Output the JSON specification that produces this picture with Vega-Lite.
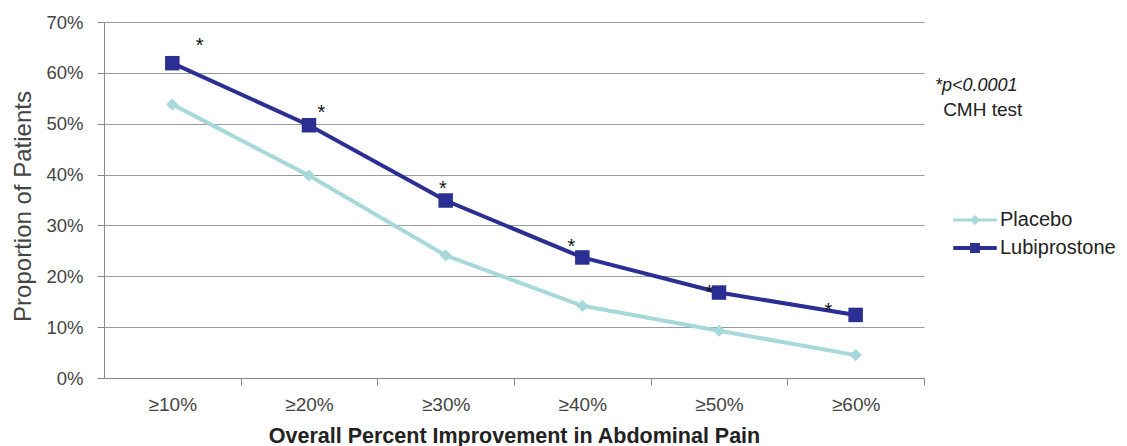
{
  "$schema": "https://vega.github.io/schema/vega-lite/v6.json",
  "width": 820,
  "height": 356,
  "autosize": {"type": "none"},
  "padding": {"left": 104, "top": 22, "right": 203, "bottom": 68},
  "background": "white",
  "config": {
    "font": "Liberation Sans",
    "view": {"stroke": null},
    "axis": {"domainColor": "#888", "tickColor": "#888", "gridColor": "#9a9a9a", "labelColor": "#444", "titleColor": "#444", "labelFont": "Liberation Sans"}
  },
  "datasets": {
    "main": [
      {"cat": "≥10%", "idx": 1, "series": "Placebo", "value": 0.538},
      {"cat": "≥20%", "idx": 2, "series": "Placebo", "value": 0.398},
      {"cat": "≥30%", "idx": 3, "series": "Placebo", "value": 0.241},
      {"cat": "≥40%", "idx": 4, "series": "Placebo", "value": 0.142},
      {"cat": "≥50%", "idx": 5, "series": "Placebo", "value": 0.093},
      {"cat": "≥60%", "idx": 6, "series": "Placebo", "value": 0.045},
      {"cat": "≥10%", "idx": 1, "series": "Lubiprostone", "value": 0.619},
      {"cat": "≥20%", "idx": 2, "series": "Lubiprostone", "value": 0.497},
      {"cat": "≥30%", "idx": 3, "series": "Lubiprostone", "value": 0.349},
      {"cat": "≥40%", "idx": 4, "series": "Lubiprostone", "value": 0.237},
      {"cat": "≥50%", "idx": 5, "series": "Lubiprostone", "value": 0.168},
      {"cat": "≥60%", "idx": 6, "series": "Lubiprostone", "value": 0.124}
    ],
    "stars": [
      {"cat": "≥10%", "sx": 1.20, "sy": 0.65},
      {"cat": "≥20%", "sx": 2.09, "sy": 0.52},
      {"cat": "≥30%", "sx": 2.98, "sy": 0.37},
      {"cat": "≥40%", "sx": 3.92, "sy": 0.255},
      {"cat": "≥50%", "sx": 4.93, "sy": 0.165},
      {"cat": "≥60%", "sx": 5.80, "sy": 0.13}
    ],
    "note1": [{"nx": 6.58, "ny": 0.575, "label": "*p<0.0001"}],
    "note2": [{"nx": 6.64, "ny": 0.527, "label": "CMH test"}]
  },
  "layer": [
    {
      "data": {"name": "main"},
      "mark": {"type": "line", "strokeWidth": 4},
      "encoding": {
        "x": {"field": "idx", "type": "quantitative",
          "scale": {"domain": [0.5, 6.5], "nice": false, "zero": false},
          "axis": {"values": [1, 2, 3, 4, 5, 6], "grid": false, "tickSize": 7, "tickOffset": 68.33, "labelOffset": -68.33,
            "labelExpr": "'≥' + (datum.value * 10) + '%'", "labelPadding": 10, "labelFontSize": 19,
            "title": "Overall Percent Improvement in Abdominal Pain", "titleFont": "Liberation Sans", "titleFontWeight": "bold", "titleFontSize": 21.5, "titleColor": "#222", "titlePadding": 11}},
        "y": {"field": "value", "type": "quantitative",
          "scale": {"domain": [0, 0.7], "nice": false},
          "axis": {"values": [0, 0.1, 0.2, 0.3, 0.4, 0.5, 0.6, 0.7], "format": ".0%", "tickSize": 7, "labelPadding": 14, "labelFontSize": 18.5,
            "title": "Proportion of Patients", "titleFontSize": 24, "titleFontWeight": "normal", "titlePadding": 10, "titleY": 184}},
        "color": {"field": "series", "type": "nominal",
          "scale": {"domain": ["Placebo", "Lubiprostone"], "range": ["#a8d9da", "#2b2e92"]},
          "legend": {"title": null, "orient": "none", "legendX": 856, "legendY": 183, "symbolSize": 900, "rowPadding": 3, "labelOffset": 10, "labelFontSize": 20, "labelColor": "#222", "padding": 0,
            "encode": {"symbols": {"update": {
              "shape": {"signal": "datum.value === 'Placebo' ? 'M-1.45,-0.1H1.45V0.1H-1.45Z M0,-0.33L0.33,0L0,0.33L-0.33,0Z' : 'M-1.45,-0.13H1.45V0.13H-1.45Z M-0.33,-0.33H0.33V0.33H-0.33Z'"},
              "fill": {"signal": "scale('color', datum.value)"},
              "strokeWidth": {"value": 0},
              "opacity": {"value": 1}}}}}}
      }
    },
    {
      "data": {"name": "main"},
      "transform": [{"filter": "datum.series === 'Placebo'"}],
      "mark": {"type": "point", "shape": "diamond", "filled": true, "size": 150, "color": "#a8d9da", "opacity": 1},
      "encoding": {
        "x": {"field": "idx", "type": "quantitative"},
        "y": {"field": "value", "type": "quantitative"}
      }
    },
    {
      "data": {"name": "main"},
      "transform": [{"filter": "datum.series === 'Lubiprostone'"}],
      "mark": {"type": "point", "shape": "square", "filled": true, "size": 210, "color": "#2b2e92", "opacity": 1},
      "encoding": {
        "x": {"field": "idx", "type": "quantitative"},
        "y": {"field": "value", "type": "quantitative"}
      }
    },
    {
      "data": {"name": "stars"},
      "mark": {"type": "text", "text": "*", "fontSize": 20, "color": "#111", "baseline": "middle", "align": "center", "dy": -1},
      "encoding": {
        "x": {"field": "sx", "type": "quantitative"},
        "y": {"field": "sy", "type": "quantitative"}
      }
    },
    {
      "data": {"name": "note1"},
      "mark": {"type": "text", "fontSize": 18, "fontStyle": "italic", "color": "#222", "align": "left", "baseline": "middle", "clip": false},
      "encoding": {
        "x": {"field": "nx", "type": "quantitative"},
        "y": {"field": "ny", "type": "quantitative"},
        "text": {"field": "label"}
      }
    },
    {
      "data": {"name": "note2"},
      "mark": {"type": "text", "fontSize": 19, "color": "#222", "align": "left", "baseline": "middle", "clip": false},
      "encoding": {
        "x": {"field": "nx", "type": "quantitative"},
        "y": {"field": "ny", "type": "quantitative"},
        "text": {"field": "label"}
      }
    }
  ]
}
